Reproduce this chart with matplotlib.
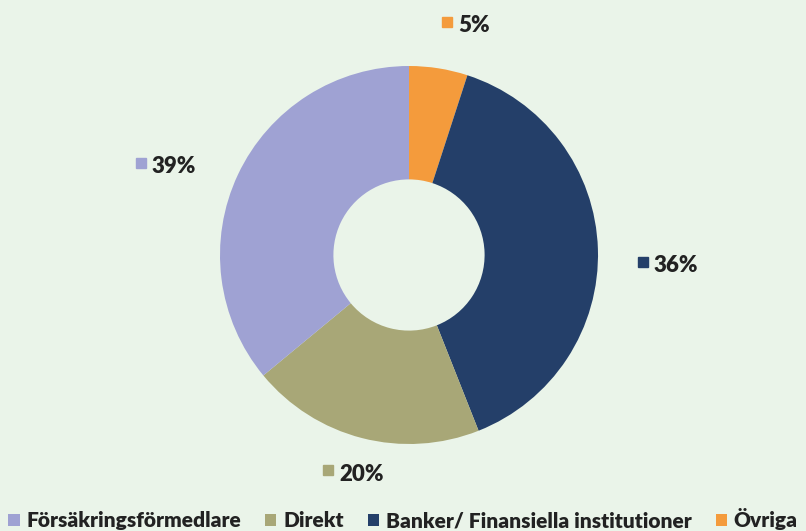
import matplotlib.pyplot as plt
from matplotlib.patches import Patch

categories = ['Försäkringsförmedlare', 'Direkt', 'Banker/ Finansiella institutioner', 'Övriga']
# wedge sizes as drawn in the reference
values = [36, 20, 39, 5]
# percentages as printed next to the donut
label_values = [39, 20, 36, 5]
colors = ['#9FA2D3', '#A8A777', '#243F69', '#F49B3C']

# slices are drawn clockwise from 12 o'clock, starting with Övriga
order = [3, 2, 1, 0]
# where each printed percentage sits (left edge of text, centre y), in donut radii
label_pos = [(-1.360, 0.466), (-0.370, -1.159), (1.296, -0.058), (0.259, 1.212)]

bg = '#EAF4E9'
plt.rcParams['font.family'] = ['Lato', 'DejaVu Sans']

fig = plt.figure(figsize=(8.06, 5.31), dpi=100, facecolor=bg)
# axes sized so the donut centre sits at ~(409, 255) px with radius ~189 px
r_px = 189
w = 2 * r_px / 806
h = 2 * r_px / 531
ax = fig.add_axes([409 / 806 - w / 2, 1 - 255 / 531 - h / 2, w, h])
ax.set_facecolor(bg)

wedges, _ = ax.pie([values[i] for i in order], colors=[colors[i] for i in order],
                   startangle=90, counterclock=False, radius=1,
                   wedgeprops=dict(width=0.6, linewidth=0))
ax.set_xlim(-1, 1)
ax.set_ylim(-1, 1)
ax.set_aspect('equal')
ax.axis('off')

for i, (x, y) in enumerate(label_pos):
    ax.text(x, y, f'{label_values[i]}%', ha='left', va='center', fontsize=16,
            fontweight='heavy', color='#222222', clip_on=False)
    ax.plot(x - 0.058, y + 0.02, marker='s', markersize=7.2, color=colors[i],
            clip_on=False, linestyle='none')

handles = [Patch(facecolor=c, edgecolor='none') for c in colors]
fig.legend(handles, categories, loc='lower left', bbox_to_anchor=(-0.005, -0.022),
           ncol=4, frameon=False, prop={'weight': 'heavy', 'size': 15},
           handlelength=0.53, handleheight=0.55, handletextpad=0.34,
           columnspacing=1.15, borderaxespad=0.2, labelcolor='#222222')

fig.savefig('out.png', dpi=100, facecolor=bg)
